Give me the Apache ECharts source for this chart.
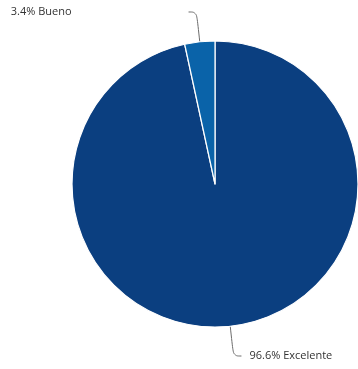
<!DOCTYPE html>
<html>
<head>
<meta charset="utf-8">
<style>
  html, body { margin: 0; padding: 0; background: #ffffff; }
  #chart { width: 358px; height: 369px; }
</style>
<script src="https://cdn.jsdelivr.net/npm/echarts@6/dist/echarts.min.js"></script>
</head>
<body>
<div id="chart"></div>
<script>
// Rating distribution
const categories = ['Excelente', 'Bueno'];
const percentages = [96.6, 3.4];
const sliceColors = ['#0b3f80', '#0a63a9'];

const chart = echarts.init(document.getElementById('chart'), null, { renderer: 'canvas' });

const data = categories.map((name, i) => {
  const item = {
    name: name,
    value: percentages[i],
    itemStyle: { color: sliceColors[i] }
  };
  if (i === 1) {
    // the small slice's text sits well to the left of its leader line
    item.label = { padding: [0, 109, 0, 0] };
  }
  return item;
});

chart.setOption({
  animation: false,
  series: [{
    type: 'pie',
    center: [215, 184],
    radius: 143,
    startAngle: 90,
    clockwise: true,
    avoidLabelOverlap: false,
    data: data,
    itemStyle: { borderColor: '#ffffff', borderWidth: 1.2 },
    label: {
      show: true,
      formatter: p => p.value.toFixed(1) + '% ' + p.name,
      fontFamily: 'Open Sans',
      fontSize: 11,
      color: '#333333',
      distanceToLabelLine: 8
    },
    labelLine: {
      show: true,
      length: 30,
      length2: 8,
      smooth: 0.4,
      lineStyle: { color: '#6b6b6b', width: 1 }
    },
    emphasis: { disabled: true }
  }]
});
</script>
</body>
</html>
